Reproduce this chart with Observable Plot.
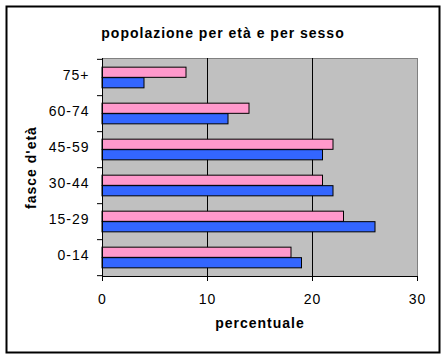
<!DOCTYPE html>
<html><head><meta charset="utf-8">
<script src="https://cdn.jsdelivr.net/npm/d3@7"></script>
<script src="https://cdn.jsdelivr.net/npm/@observablehq/plot@0.6"></script>
<style>
body{margin:0;background:#fff}
#chart svg{display:block;background:#fff}
#chart svg text{letter-spacing:1px}
</style></head><body><div id="chart"></div>
<script>
// Data
const ages = ["0-14", "15-29", "30-44", "45-59", "60-74", "75+"];
const female = [18, 23, 21, 22, 14, 8];   // pink
const male = [19, 26, 22, 21, 12, 4];     // blue
const xTicks = [0, 10, 20, 30];
const title = "popolazione per età e per sesso";
const xLabel = "percentuale";
const yLabel = "fasce d'età";

const rows = ages.flatMap((a, i) => [
  {age: a, sex: "F", value: female[i]},
  {age: a, sex: "M", value: male[i]}
]);

// Layout
const W = 444, H = 357, mL = 102, mR = 27, mT = 58, mB = 81;
const plotW = W - mL - mR, plotH = H - mT - mB;
const step = plotH / ages.length;
const barH = 10.5;
const inset = (step - 2 * barH) / 2 + barH / 2;
const font = "Liberation Sans, Arial, sans-serif";
const yDomain = [...ages].reverse();
const xMax = 30;
const tickLen = 5 * xMax / plotW; // 5px tick expressed on the x scale

const chart = Plot.plot({
  width: W, height: H,
  marginLeft: mL, marginRight: mR, marginTop: mT, marginBottom: mB,
  style: {fontFamily: font, fontSize: "14px", color: "black", background: "white"},
  x: {domain: [0, xMax]},
  y: {domain: yDomain, padding: 0},
  marks: [
    Plot.frame({fill: "#c0c0c0", stroke: "#808080"}),
    Plot.ruleX([10, 20], {stroke: "black"}),
    Plot.barX(rows.filter(d => d.sex === "F"), {
      x: "value", y: "age", fill: "#ff99cc", stroke: "black", strokeWidth: 1,
      insetTop: inset, insetBottom: inset, dy: -barH / 2 + 0.5
    }),
    Plot.barX(rows.filter(d => d.sex === "M"), {
      x: "value", y: "age", fill: "#3366ff", stroke: "black", strokeWidth: 1,
      insetTop: inset, insetBottom: inset, dy: barH / 2 + 0.5
    }),
    Plot.ruleX([0], {stroke: "black"}),
    Plot.frame({anchor: "bottom", stroke: "black"}),
    // y boundary ticks
    Plot.ruleY(yDomain, {y: d => d, x1: -tickLen, x2: 0, dy: step / 2, stroke: "black"}),
    Plot.ruleY([yDomain[0]], {y: d => d, x1: -tickLen, x2: 0, dy: -step / 2, stroke: "black"}),
    Plot.axisY({tickSize: 0, tickPadding: 13, dy: -1.5, fontSize: 14, label: null}),
    Plot.axisX({ticks: xTicks, tickSize: 5, tickPadding: 13, fontSize: 14, label: null}),
    Plot.text([title], {frameAnchor: "top", dx: -37, dy: -30.8, fontWeight: "bold", fontSize: 14}),
    Plot.text([xLabel], {frameAnchor: "bottom", dy: 51.5, fontWeight: "bold", fontSize: 14}),
    Plot.text([yLabel], {frameAnchor: "left", dx: -70.8, rotate: -90, textAnchor: "middle", fontWeight: "bold", fontSize: 14}),
    // outer chart border
    Plot.frame({stroke: "black", strokeWidth: 2, insetLeft: -96, insetTop: -52, insetRight: -22, insetBottom: -76})
  ]
});
document.getElementById("chart").append(chart);
</script></body></html>
